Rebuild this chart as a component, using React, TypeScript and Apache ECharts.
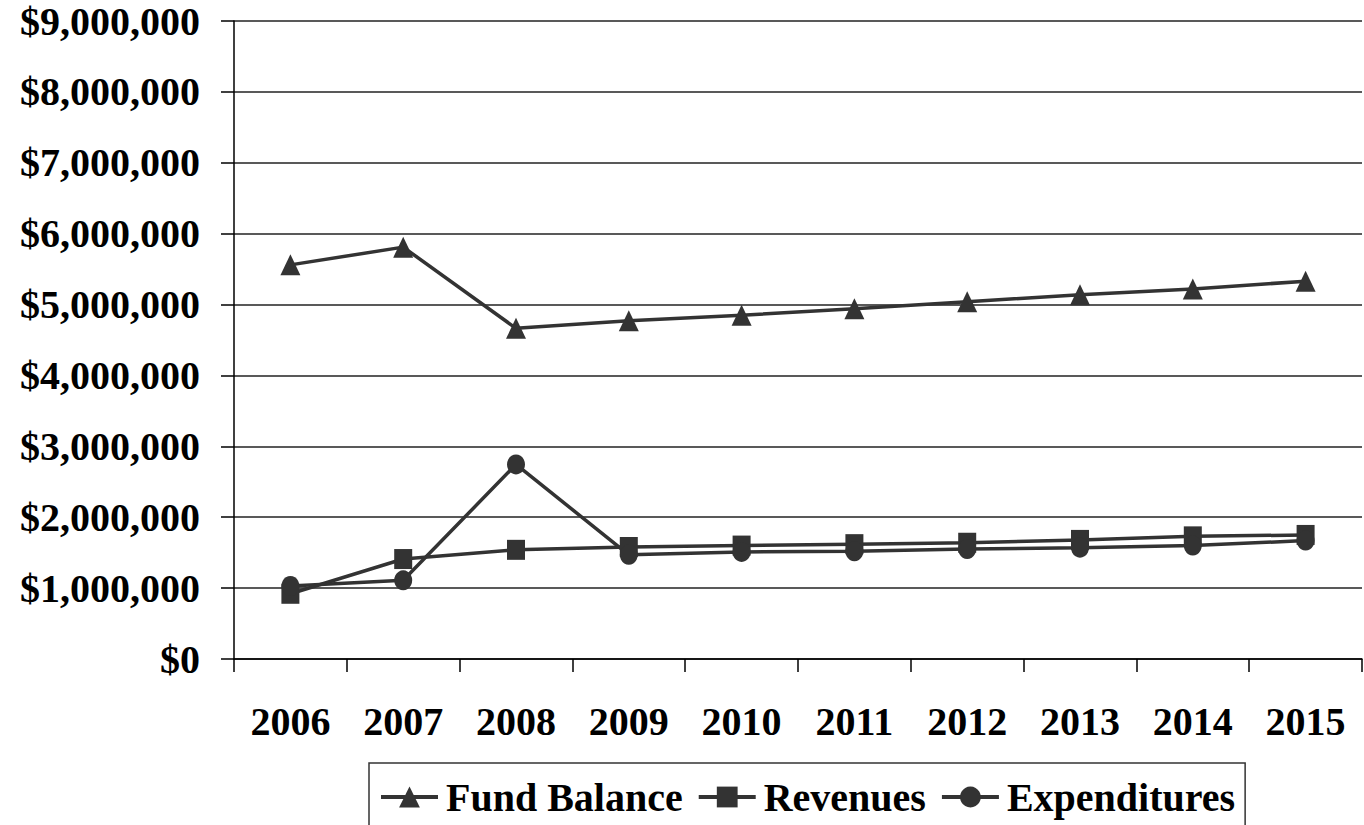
import React, { useEffect, useRef } from "react";
import * as echarts from "echarts";

const years = ["2006", "2007", "2008", "2009", "2010", "2011", "2012", "2013", "2014", "2015"];
const fundBalance = [5560000, 5810000, 4665000, 4770000, 4850000, 4940000, 5040000, 5140000, 5220000, 5330000];
const revenues = [920000, 1410000, 1540000, 1580000, 1600000, 1620000, 1640000, 1680000, 1730000, 1750000];
const expenditures = [1030000, 1110000, 2745000, 1470000, 1510000, 1520000, 1550000, 1570000, 1600000, 1670000];

const FONT = "'Liberation Serif', 'Times New Roman', serif";
const LINE = "#333333";

function fmt(v: number): string {
  return "$" + v.toLocaleString("en-US");
}

export default function App() {
  const ref = useRef<HTMLDivElement>(null);
  useEffect(() => {
    if (!ref.current) return;
    const chart = echarts.init(ref.current, undefined, { renderer: "svg" });
    const mk = (name: string, data: number[], symbol: string, size: number | number[]) => ({
      name,
      type: "line",
      data,
      symbol,
      symbolSize: size,
      showAllSymbol: true,
      lineStyle: { color: LINE, width: 3.5 },
      itemStyle: { color: LINE, borderWidth: 0 },
      emphasis: { disabled: true },
    });
    chart.setOption({
      animation: false,
      backgroundColor: "#ffffff",
      grid: { left: 234, right: 2, top: 21, bottom: 166, containLabel: false, outerBoundsMode: "none" },
      legend: {
        left: 369,
        top: 763,
        padding: [14, 10, 30, 10],
        itemGap: 14,
        itemWidth: 57,
        itemHeight: 26,
        borderColor: "#333",
        borderWidth: 1.5,
        lineStyle: { width: 4, color: LINE },
        textStyle: { fontFamily: FONT, fontWeight: "bold", fontSize: 40, color: "#000", padding: [0, 0, 0, 3] },
        data: ["Fund Balance", "Revenues", "Expenditures"],
      },
      xAxis: {
        type: "category",
        data: years,
        boundaryGap: true,
        axisLine: { show: true, lineStyle: { color: "#000", width: 1.5 } },
        axisTick: { show: true, length: 13, lineStyle: { color: "#000", width: 1.5 } },
        axisLabel: { margin: 42, fontFamily: FONT, fontWeight: "bold", fontSize: 40, color: "#000" },
        splitLine: { show: false },
      },
      yAxis: {
        type: "value",
        min: 0,
        max: 9000000,
        interval: 1000000,
        axisLine: { show: true, lineStyle: { color: "#000", width: 1.5 } },
        axisTick: { show: true, length: 13, lineStyle: { color: "#000", width: 1.5 } },
        axisLabel: {
          margin: 34,
          fontFamily: FONT,
          fontWeight: "bold",
          fontSize: 40,
          color: "#000",
          formatter: (v: number) => fmt(v),
        },
        splitLine: { show: true, lineStyle: { color: "#222", width: 1.5 } },
      },
      series: [
        mk("Fund Balance", fundBalance, "triangle", [20, 21]),
        mk("Revenues", revenues, "rect", [18, 20]),
        mk("Expenditures", expenditures, "circle", [18, 20]),
      ],
    });
    return () => chart.dispose();
  }, []);
  return <div ref={ref} style={{ position: "fixed", left: 0, top: 0, width: 1364, height: 825 }} />;
}
